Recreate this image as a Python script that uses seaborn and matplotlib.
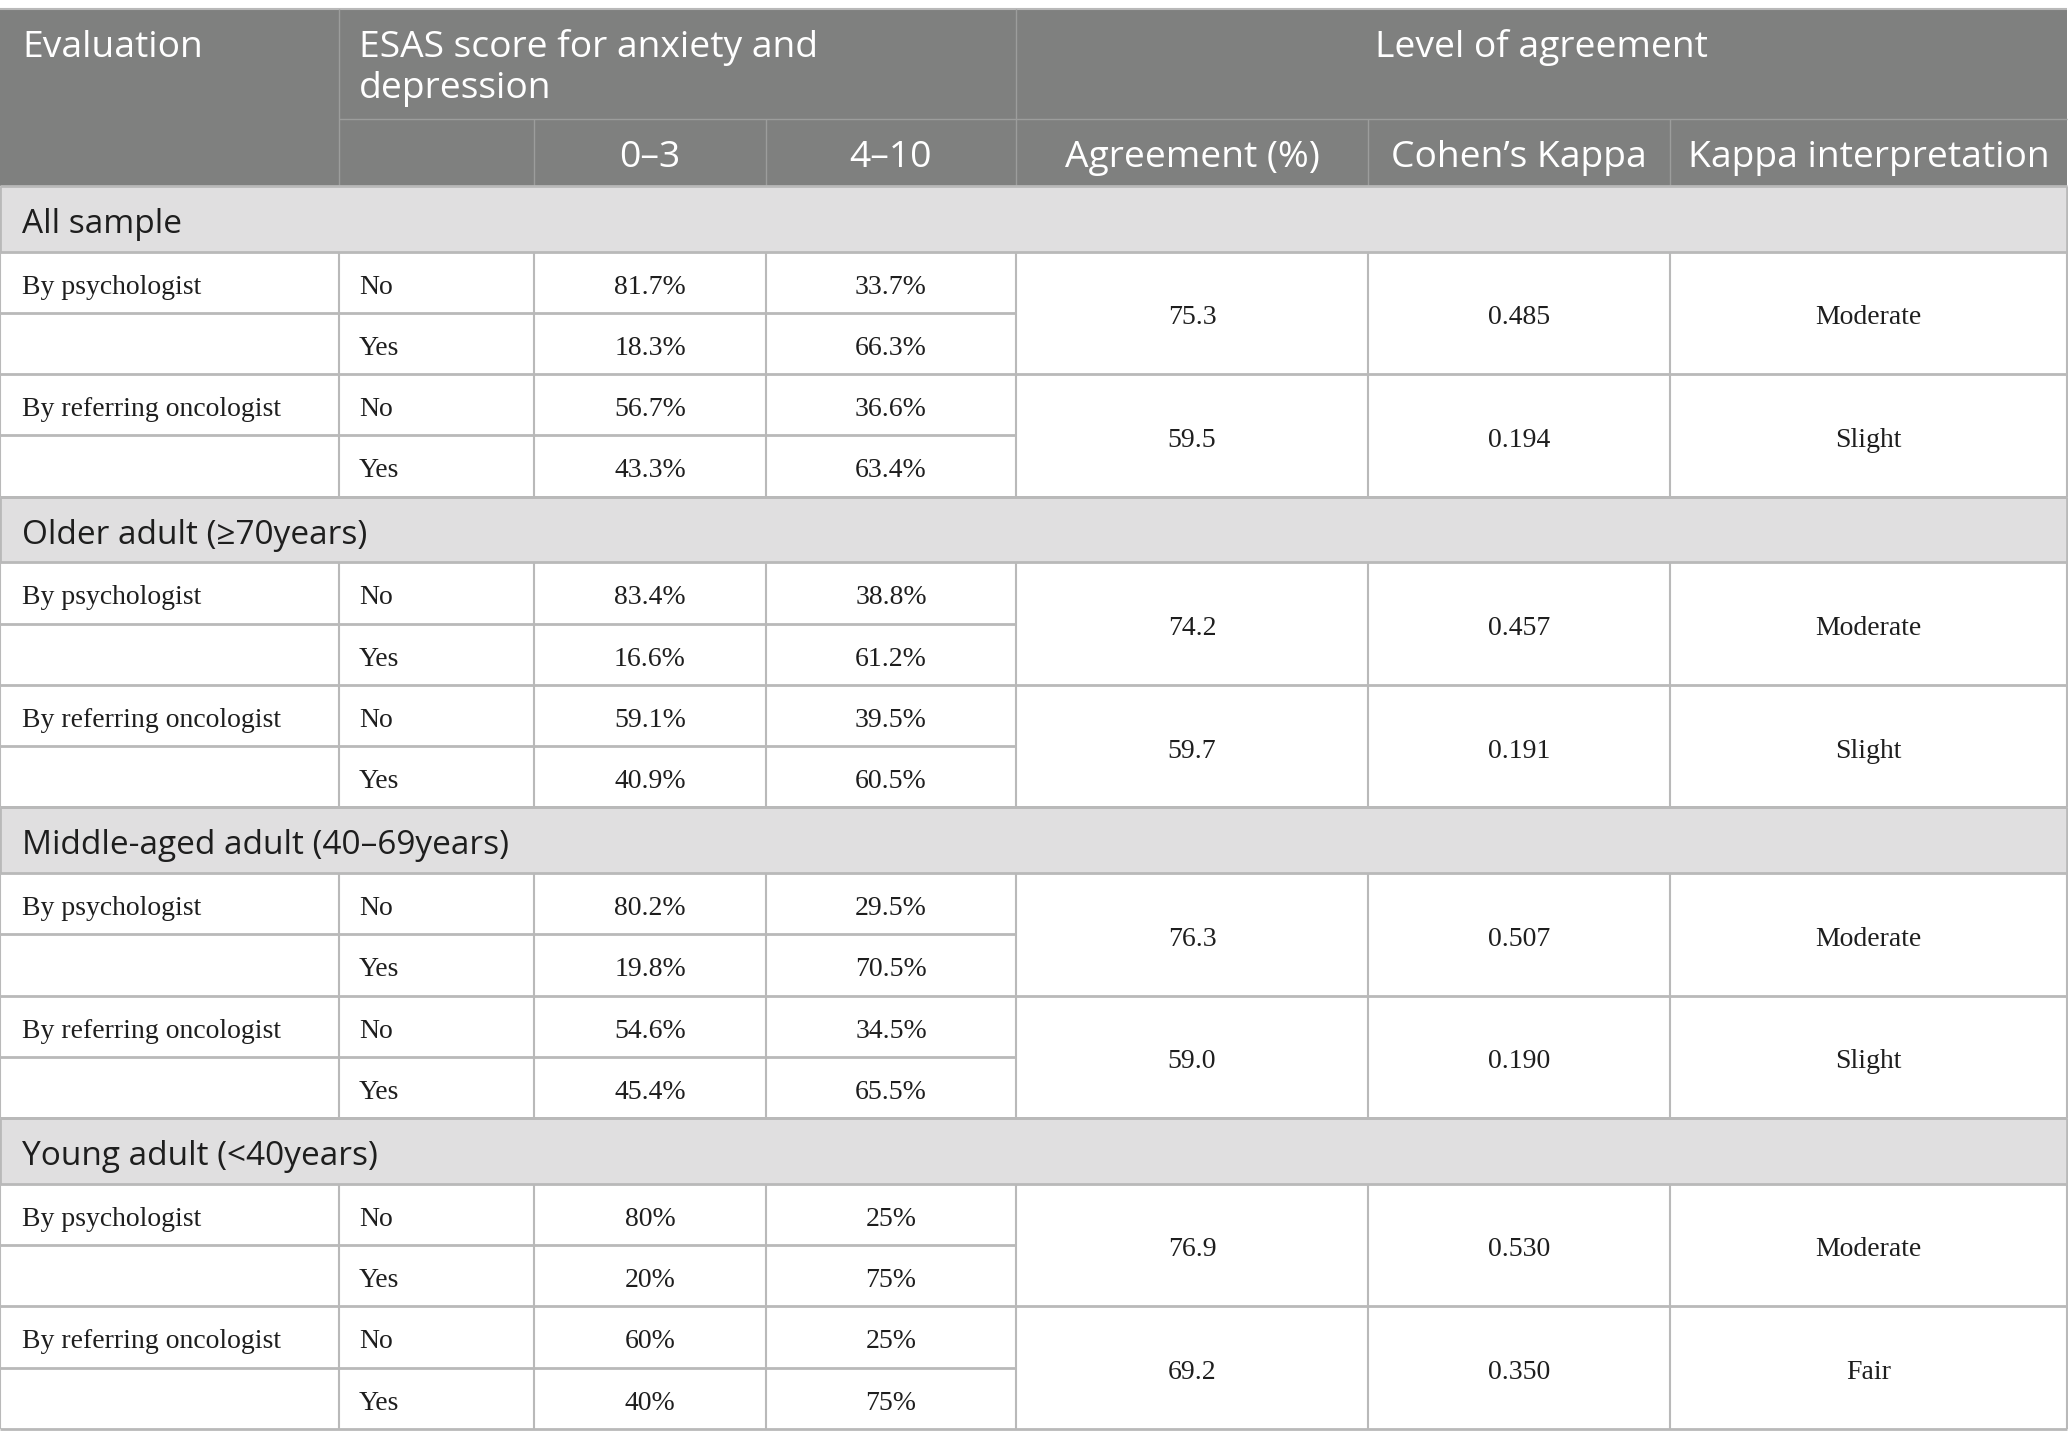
import matplotlib
matplotlib.use("Agg")
import matplotlib.pyplot as plt
from matplotlib.patches import Rectangle
import seaborn as sns
import pandas as pd

# -----------------------------
# TABLE DATA
# -----------------------------
groups = ["All sample", "Older adult (\u226570years)",
          "Middle-aged adult (40\u201369years)", "Young adult (<40years)"]
evaluators = ["By psychologist", "By referring oncologist"]
answers = ["No", "Yes"]

# ESAS 0-3 / 4-10 percentages, order: group -> evaluator -> No, Yes
low_scores = [["81.7%", "18.3%"], ["56.7%", "43.3%"],
              ["83.4%", "16.6%"], ["59.1%", "40.9%"],
              ["80.2%", "19.8%"], ["54.6%", "45.4%"],
              ["80%", "20%"], ["60%", "40%"]]
high_scores = [["33.7%", "66.3%"], ["36.6%", "63.4%"],
               ["38.8%", "61.2%"], ["39.5%", "60.5%"],
               ["29.5%", "70.5%"], ["34.5%", "65.5%"],
               ["25%", "75%"], ["25%", "75%"]]
agreement = ["75.3", "59.5", "74.2", "59.7", "76.3", "59.0", "76.9", "69.2"]
kappa = ["0.485", "0.194", "0.457", "0.191", "0.507", "0.190", "0.530", "0.350"]
interpretation = ["Moderate", "Slight", "Moderate", "Slight",
                  "Moderate", "Slight", "Moderate", "Fair"]

header_cols = ["0\u20133", "4\u201310", "Agreement (%)", "Cohen\u2019s Kappa",
               "Kappa interpretation"]

# -----------------------------
# BUILD DATAFRAME
# -----------------------------
records = []
for i, (lo, hi) in enumerate(zip(low_scores, high_scores)):
    records.append({
        "group": groups[i // 2],
        "evaluator": evaluators[i % 2],
        "low_no": lo[0], "low_yes": lo[1],
        "high_no": hi[0], "high_yes": hi[1],
        "agreement": agreement[i],
        "kappa": kappa[i],
        "interp": interpretation[i],
    })
df = pd.DataFrame(records)

# -----------------------------
# STYLE
# -----------------------------
sns.set_theme(style="white")
plt.rcParams["font.family"] = ["Liberation Serif", "DejaVu Serif"]

HEAD_BG = "#7f807f"
HEAD_LINE = "#9c9d9c"
BAND_BG = "#e0dfe0"
LINE = "#b9b9b9"
TEXT = "#1e1e1e"
SANS = ["Open Sans", "DejaVu Sans"]
SERIF = ["Liberation Serif", "DejaVu Serif"]

W, H = 2068, 1448
col_x = [0, 339, 534, 766, 1016, 1368, 1670, 2067]
y_top = 9
head1_h = 110
head2_h = 67
band_h = 65.5
row_h = 61.3

fig = plt.figure(figsize=(W / 100, H / 100), dpi=100)
ax = fig.add_axes([0, 0, 1, 1])
ax.set_xlim(0, W)
ax.set_ylim(H, 0)
ax.axis("off")

head_fs = 26.8
group_fs = 24
body_fs = 20

# -----------------------------
# HEADER
# -----------------------------
y_sub = y_top + head1_h
y_head_end = y_sub + head2_h
ax.add_patch(Rectangle((0, y_top), col_x[-1], head1_h + head2_h,
                       facecolor=HEAD_BG, edgecolor="none", zorder=1))
ax.hlines(y_top, 0, col_x[-1], color=LINE, lw=1.5, zorder=3)
ax.hlines(y_sub, col_x[1], col_x[-1], color=HEAD_LINE, lw=1.0, zorder=3)
ax.vlines([col_x[1], col_x[4]], y_top, y_head_end, color=HEAD_LINE, lw=1.0, zorder=3)
ax.vlines([col_x[2], col_x[3], col_x[5], col_x[6]], y_sub, y_head_end,
          color=HEAD_LINE, lw=1.0, zorder=3)

ax.text(22, 57, "Evaluation", family=SANS, fontsize=head_fs,
        color="white", ha="left", va="baseline")
ax.text(col_x[1] + 20, 57, "ESAS score for anxiety and", family=SANS,
        fontsize=head_fs, color="white", ha="left", va="baseline")
ax.text(col_x[1] + 20, 98, "depression", family=SANS,
        fontsize=head_fs, color="white", ha="left", va="baseline")
ax.text((col_x[4] + col_x[7]) / 2, 57, "Level of agreement", family=SANS,
        fontsize=head_fs, color="white", ha="center", va="baseline")
for j, lab in enumerate(header_cols):
    xc = (col_x[j + 2] + col_x[j + 3]) / 2
    ax.text(xc, y_sub + 48, lab, family=SANS, fontsize=head_fs,
            color="white", ha="center", va="baseline")

# -----------------------------
# BODY
# -----------------------------
y = y_head_end
for g in groups:
    # group band
    ax.add_patch(Rectangle((0, y), col_x[-1], band_h, facecolor=BAND_BG,
                           edgecolor="none", zorder=1))
    ax.hlines(y, 0, col_x[-1], color=LINE, lw=2, zorder=3)
    ax.vlines([0, col_x[-1]], y, y + band_h, color=LINE, lw=2, zorder=3)
    ax.text(22, y + 47, g, family=SANS, fontsize=group_fs,
            color=TEXT, ha="left", va="baseline")
    y += band_h
    ax.hlines(y, 0, col_x[-1], color=LINE, lw=2, zorder=3)

    sub = df[df["group"] == g]
    for _, r in sub.iterrows():
        y0 = y
        cells = [(r["evaluator"], "", "left"),
                 ("No", "Yes", "left"),
                 (r["low_no"], r["low_yes"], "center"),
                 (r["high_no"], r["high_yes"], "center")]
        for k in range(2):
            yb = y0 + row_h * k + 42
            for j, (a, b, ha) in enumerate(cells):
                txt = a if k == 0 else b
                if ha == "left":
                    xt = col_x[j] + (22 if j == 0 else 20)
                else:
                    xt = (col_x[j] + col_x[j + 1]) / 2
                ax.text(xt, yb, txt, family=SERIF, fontsize=body_fs,
                        color=TEXT, ha=ha, va="baseline")
        # merged cells
        ym = y0 + row_h
        for j, key in zip([4, 5, 6], ["agreement", "kappa", "interp"]):
            ax.text((col_x[j] + col_x[j + 1]) / 2, ym + 11.5, r[key], family=SERIF,
                    fontsize=body_fs, color=TEXT, ha="center", va="baseline")
        ax.hlines(ym, 0, col_x[4], color=LINE, lw=2, zorder=3)
        ax.vlines(col_x, y0, y0 + 2 * row_h, color=LINE, lw=1.5, zorder=3)
        y = y0 + 2 * row_h
        ax.hlines(y, 0, col_x[-1], color=LINE, lw=2, zorder=3)

plt.savefig("out.png", dpi=100, facecolor="white")
plt.close()
